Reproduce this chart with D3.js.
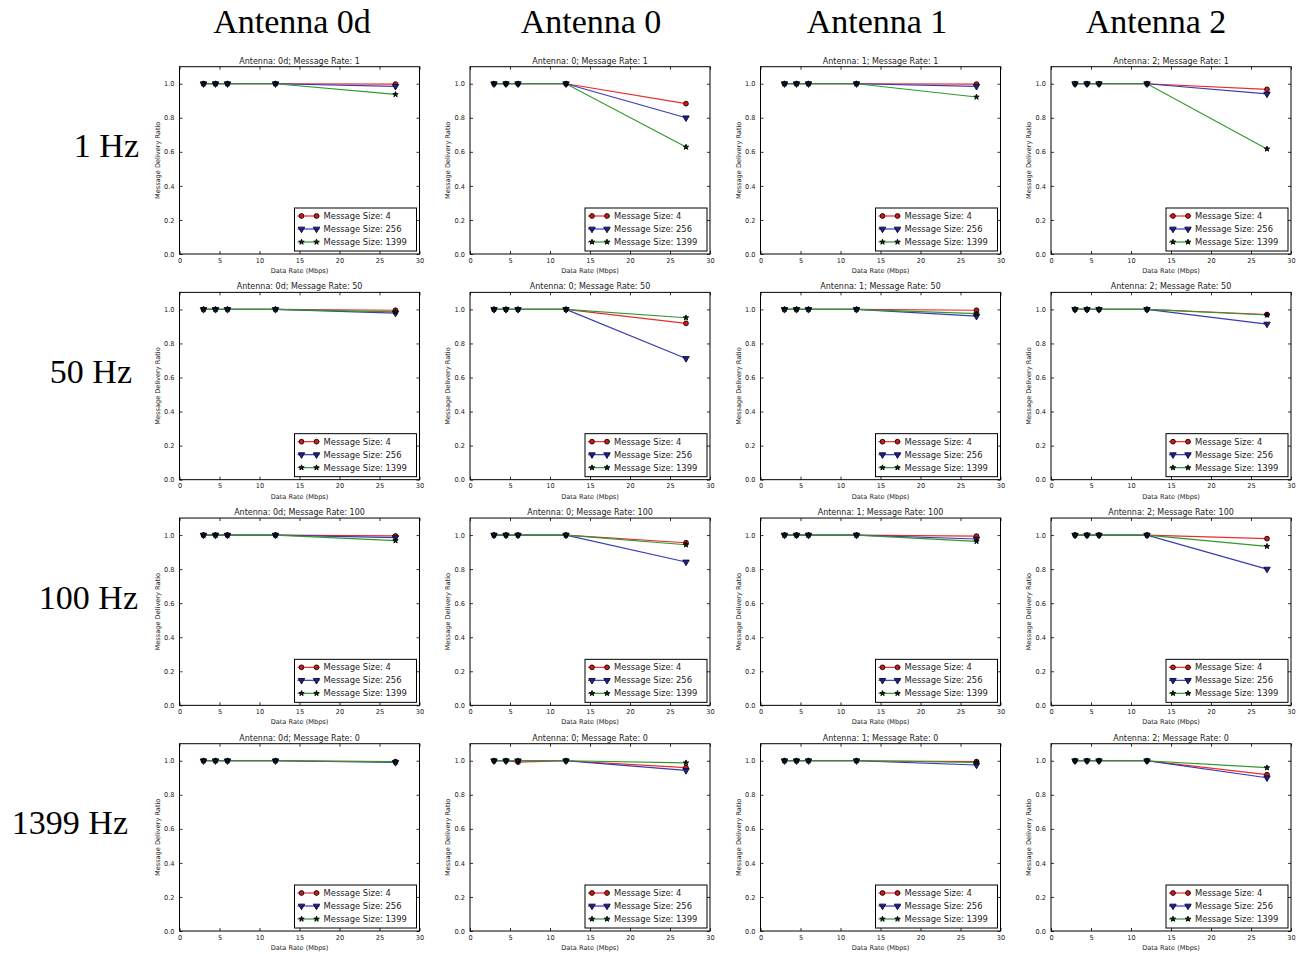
<!DOCTYPE html>
<html>
<head>
<meta charset="utf-8">
<script src="https://cdn.jsdelivr.net/npm/d3@7"></script>
<style>
  html, body { margin: 0; padding: 0; background: #fff; }
  svg { display: block; }
  .tick-label { font-family: "DejaVu Sans", sans-serif; font-size: 6.6px; fill: #222; }
  .axis-title { font-family: "DejaVu Sans", sans-serif; font-size: 6.6px; fill: #222; }
  .panel-title { font-family: "DejaVu Sans", sans-serif; font-size: 8px; fill: #222; }
  .legend-text { font-family: "DejaVu Sans", sans-serif; font-size: 8.4px; fill: #222; }
  .header { font-family: "Liberation Serif", "Times New Roman", serif; font-size: 34px; fill: #000; }
</style>
</head>
<body>
<svg id="chart" width="1302" height="954"></svg>
<script>
// Grid of panels: columns are antennas, rows are message rates
const antennas = ["0d", "0", "1", "2"];
const columnHeaders = ["Antenna 0d", "Antenna 0", "Antenna 1", "Antenna 2"];
const messageRates = [1, 50, 100, 0];
const rowLabels = ["1 Hz", "50 Hz", "100 Hz", "1399 Hz"];

// Shared x values (Mbps) and series
const dataRates = [3, 4.5, 6, 12, 27];
const messageSizes = [4, 256, 1399];

const xTicks = [0, 5, 10, 15, 20, 25, 30];
const yTicks = [0.0, 0.2, 0.4, 0.6, 0.8, 1.0];

// Message delivery ratio per message rate (rows), per message size (4, 256, 1399)
const ratioAntenna0d = [
  [[1, 1, 1, 1, 0.998], [1, 1, 1, 1, 0.985], [1, 1, 1, 1, 0.937]],
  [[1, 1, 1, 1, 0.995], [1, 1, 1, 1, 0.978], [1, 1, 1, 1, 0.985]],
  [[1, 1, 1, 1, 0.995], [1, 1, 1, 1, 0.985], [1, 1, 1, 1, 0.967]],
  [[1, 1, 1, 1, 0.995], [1, 1, 1, 1, 0.990], [1, 1, 1, 1, 0.993]]
];
const ratioAntenna0 = [
  [[1, 1, 1, 1, 0.883], [1, 1, 1, 1, 0.800], [1, 1, 1, 1, 0.628]],
  [[1, 1, 1, 1, 0.918], [1, 1, 1, 1, 0.712], [1, 1, 1, 1, 0.951]],
  [[1, 1, 1, 1, 0.955], [1, 1, 1, 1, 0.842], [1, 1, 1, 1, 0.943]],
  [[1, 1, 0.992, 1, 0.959], [1, 1, 1, 1, 0.943], [1, 1, 1, 1, 0.988]]
];
const ratioAntenna1 = [
  [[1, 1, 1, 1, 0.998], [1, 1, 1, 1, 0.985], [1, 1, 1, 1, 0.922]],
  [[1, 1, 1, 1, 0.995], [1, 1, 1, 1, 0.960], [1, 1, 1, 1, 0.975]],
  [[1, 1, 1, 1, 0.994], [1, 1, 1, 1, 0.977], [1, 1, 1, 1, 0.963]],
  [[1, 1, 1, 1, 0.995], [1, 1, 1, 1, 0.975], [1, 1, 1, 1, 0.990]]
];
const ratioAntenna2 = [
  [[1, 1, 1, 1, 0.967], [1, 1, 1, 1, 0.940], [1, 1, 1, 1, 0.617]],
  [[1, 1, 1, 1, 0.970], [1, 1, 1, 1, 0.914], [1, 1, 1, 1, 0.967]],
  [[1, 1, 1, 1, 0.979], [1, 1, 1, 1, 0.800], [1, 1, 1, 1, 0.934]],
  [[1, 1, 1, 1, 0.918], [1, 1, 1, 1, 0.900], [1, 1, 1, 1, 0.959]]
];
const ratiosByAntenna = [ratioAntenna0d, ratioAntenna0, ratioAntenna1, ratioAntenna2];

// Styling for each message-size series
const seriesStyle = [
  { line: "#ee2a2a", fill: "#d01818", stroke: "#1a0000", symbol: "circle", size: 18 },
  { line: "#3a3ab4", fill: "#20208a", stroke: "#0a0a30", symbol: "triangleDown", size: 18 },
  { line: "#2e9a2e", fill: "#0c2a0c", stroke: "#000", symbol: "star", size: 9 }
];

// Panel geometry
const panelLeft0 = 179.5, panelStepX = 290.5, panelW = 240;
const panelTop0 = 66.7, panelStepY = 225.67, panelH = 187.3;
// Heading placement
const headerCenters = [292, 591, 877, 1156];
const rowLabelRight = [139, 132, 138, 128];

const svg = d3.select("#chart");
svg.append("rect").attr("width", 1302).attr("height", 954).attr("fill", "#fff");

function markerPath(kind, size) {
  if (kind === "circle") return d3.symbol(d3.symbolCircle, size)();
  if (kind === "star") return d3.symbol(d3.symbolStar, size)();
  return d3.symbol(d3.symbolTriangle, size)();
}
function drawMarker(g, style, x, y) {
  const p = g.append("path")
    .attr("d", markerPath(style.symbol, style.size))
    .attr("fill", style.fill)
    .attr("stroke", style.stroke)
    .attr("stroke-width", 0.9);
  if (style.symbol === "triangleDown") p.attr("transform", `translate(${x},${y}) rotate(180)`);
  else p.attr("transform", `translate(${x},${y})`);
}

// Column headers and row labels
columnHeaders.forEach((h, i) => {
  svg.append("text").attr("class", "header")
    .attr("x", headerCenters[i]).attr("y", 33).attr("text-anchor", "middle").text(h);
});
rowLabels.forEach((r, j) => {
  const cy = panelTop0 + j * panelStepY + panelH / 2 - 3;
  svg.append("text").attr("class", "header")
    .attr("x", rowLabelRight[j]).attr("y", cy).attr("text-anchor", "end").text(r);
});

antennas.forEach((ant, i) => {
  messageRates.forEach((rate, j) => {
    const left = panelLeft0 + i * panelStepX;
    const top = panelTop0 + j * panelStepY;
    const g = svg.append("g").attr("transform", `translate(${left},${top})`);

    const x = d3.scaleLinear().domain([0, 30]).range([0, panelW]);
    const y = d3.scaleLinear().domain([0, 1.1]).range([panelH, 0]);

    // Inward ticks on all four sides
    const tickLen = 3;
    const axBottom = d3.axisBottom(x).tickValues(xTicks).tickSize(-tickLen).tickFormat(d3.format("d")).tickPadding(4);
    const axTop = d3.axisTop(x).tickValues(xTicks).tickSize(-tickLen).tickFormat("");
    const axLeft = d3.axisLeft(y).tickValues(yTicks).tickSize(-tickLen).tickFormat(d3.format(".1f")).tickPadding(5);
    const axRight = d3.axisRight(y).tickValues(yTicks).tickSize(-tickLen).tickFormat("");

    const styleAxis = sel => {
      sel.select(".domain").remove();
      sel.selectAll(".tick line").attr("stroke", "#000").attr("stroke-width", 0.8);
      sel.selectAll(".tick text").attr("class", "tick-label").attr("font-size", null).attr("font-family", null);
    };
    g.append("g").attr("transform", `translate(0,${panelH})`).call(axBottom).call(styleAxis);
    g.append("g").call(axTop).call(styleAxis);
    g.append("g").call(axLeft).call(styleAxis);
    g.append("g").attr("transform", `translate(${panelW},0)`).call(axRight).call(styleAxis);

    // Series lines then markers
    const data = ratiosByAntenna[i][j];
    const line = d3.line().x((d, k) => x(dataRates[k])).y(d => y(d));
    data.forEach((vals, s) => {
      g.append("path").datum(vals)
        .attr("d", line)
        .attr("fill", "none")
        .attr("stroke", seriesStyle[s].line)
        .attr("stroke-width", 1.2);
    });
    data.forEach((vals, s) => {
      vals.forEach((v, k) => drawMarker(g, seriesStyle[s], x(dataRates[k]), y(v)));
    });

    // Frame
    g.append("rect").attr("width", panelW).attr("height", panelH)
      .attr("fill", "none").attr("stroke", "#000").attr("stroke-width", 1);

    // Titles
    g.append("text").attr("class", "panel-title")
      .attr("x", panelW / 2).attr("y", -3).attr("text-anchor", "middle")
      .text(`Antenna: ${ant}; Message Rate: ${rate}`);
    g.append("text").attr("class", "axis-title")
      .attr("x", panelW / 2).attr("y", panelH + 19).attr("text-anchor", "middle")
      .text("Data Rate (Mbps)");
    g.append("text").attr("class", "axis-title")
      .attr("transform", `translate(-20,${panelH / 2}) rotate(-90)`)
      .attr("text-anchor", "middle")
      .text("Message Delivery Ratio");

    // Legend
    const lgW = 122, lgH = 43;
    const lg = g.append("g").attr("transform", `translate(${panelW - lgW - 3},${panelH - lgH - 3})`);
    lg.append("rect").attr("width", lgW).attr("height", lgH)
      .attr("fill", "#fff").attr("stroke", "#000").attr("stroke-width", 1);
    messageSizes.forEach((ms, s) => {
      const ly = 8 + s * 13;
      lg.append("line").attr("x1", 3).attr("x2", 25).attr("y1", ly).attr("y2", ly)
        .attr("stroke", seriesStyle[s].line).attr("stroke-width", 1.2);
      drawMarker(lg, seriesStyle[s], 7, ly);
      drawMarker(lg, seriesStyle[s], 22, ly);
      lg.append("text").attr("class", "legend-text")
        .attr("x", 29).attr("y", ly + 3).text(`Message Size: ${ms}`);
    });
  });
});
</script>
</body>
</html>
